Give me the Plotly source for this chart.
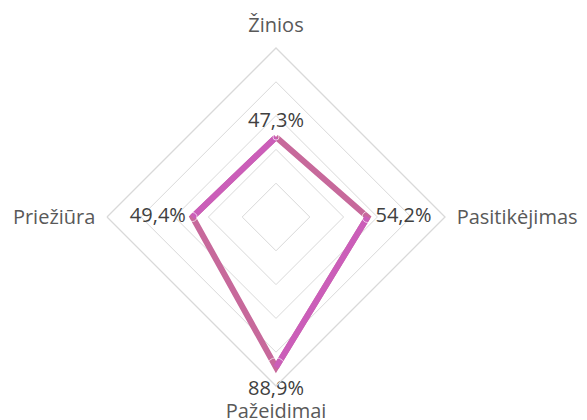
import plotly.graph_objects as go

categories = ["Žinios", "Pasitikėjimas", "Pažeidimai", "Priežiūra"]
values = [47.3, 54.2, 88.9, 49.4]
value_labels = ["47,3%", "54,2%", "88,9%", "49,4%"]
label_positions = ["top center", "middle right", "bottom center", "middle left"]
label_pad = [6, 11, 19, 9]  # invisible marker sizes used as label padding

COL_A = "#C7699B"
COL_B = "#CB5EB9"
GRID = "#D9D9D9"
FONT = "Open Sans, sans-serif"

fig = go.Figure()

# closed loop, base colour
fig.add_trace(go.Scatterpolar(
    r=values + [values[0]], theta=categories + [categories[0]],
    mode="lines", line=dict(color=COL_A, width=6), hoverinfo="skip", showlegend=False))

# alternate segments in second tone (Priežiūra->Žinios, Pasitikėjimas->Pažeidimai)
seg_r = [values[3], values[0], None, values[1], values[2]]
seg_t = [categories[3], categories[0], categories[0], categories[1], categories[2]]
fig.add_trace(go.Scatterpolar(
    r=seg_r, theta=seg_t, mode="lines", connectgaps=False,
    line=dict(color=COL_B, width=6), hoverinfo="skip", showlegend=False))

# data labels
fig.add_trace(go.Scatterpolar(
    r=values, theta=categories, mode="markers+text", text=value_labels,
    textposition=label_positions,
    marker=dict(size=label_pad, color="rgba(0,0,0,0)"),
    textfont=dict(family=FONT, size=20, color="#404040"),
    hoverinfo="skip", showlegend=False))

fig.update_layout(
    width=587, height=420,
    margin=dict(l=0, r=0, t=0, b=0),
    paper_bgcolor="white",
    showlegend=False,
    polar=dict(
        domain=dict(x=[107/587, 445/587], y=[1-386/420, 1-48/420]),
        bgcolor="white",
        gridshape="linear",
        radialaxis=dict(range=[0, 100], dtick=20, showticklabels=False, ticks="",
                        showline=False, gridcolor=GRID, gridwidth=1.3),
        angularaxis=dict(rotation=90, direction="clockwise", showgrid=False,
                         showline=True, linecolor=GRID, linewidth=1.3,
                         ticks="outside", ticklen=7, tickcolor="rgba(0,0,0,0)",
                         tickfont=dict(family=FONT, size=20, color="#595959")),
    ),
)

fig.write_html("out.html")
